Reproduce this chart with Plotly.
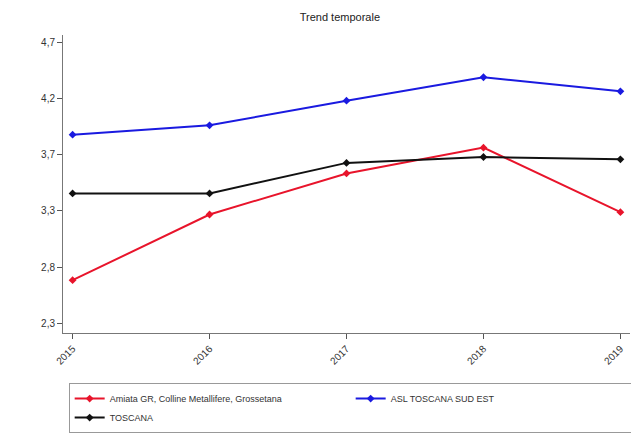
import plotly.graph_objects as go

anni = [2015, 2016, 2017, 2018, 2019]
amiata = [2.67, 3.23, 3.58, 3.80, 3.25]
asl_sud_est = [3.91, 3.99, 4.20, 4.40, 4.28]
toscana = [3.41, 3.41, 3.67, 3.72, 3.70]

y_ticks = [2.3, 2.78, 3.26, 3.74, 4.22, 4.7]
y_labels = ["2,3", "2,8", "3,3", "3,7", "4,2", "4,7"]

serie = [
    ("Amiata GR, Colline Metallifere, Grossetana", amiata, "#e8142b"),
    ("ASL TOSCANA SUD EST", asl_sud_est, "#1a1ae0"),
    ("TOSCANA", toscana, "#111111"),
]

fig = go.Figure()
for nome, valori, colore in serie:
    fig.add_trace(go.Scatter(
        x=anni, y=valori, name=nome, mode="lines+markers",
        line=dict(color=colore, width=2),
        marker=dict(symbol="diamond", size=6, color=colore),
    ))

# la pagina ha 8px di margine nel body: figura un po' più piccola
fig.update_layout(
    width=631, height=432,
    margin=dict(l=55, r=9, t=27, b=107, autoexpand=False),
    paper_bgcolor="white", plot_bgcolor="white",
    font=dict(family="Liberation Sans, Arial", size=9, color="#333"),
    title=dict(text="Trend temporale", x=0.526, xanchor="center",
               y=0.978, yanchor="middle",
               font=dict(size=11, color="#222")),
    xaxis=dict(
        range=[2014.93, 2019.07], tickvals=anni, ticktext=[str(a) for a in anni],
        tickangle=-45, ticks="outside", ticklen=5, tickcolor="#555",
        tickfont=dict(size=10),
        showline=True, linecolor="#777", linewidth=1, showgrid=False, zeroline=False,
    ),
    yaxis=dict(
        range=[2.22, 4.76], tickvals=y_ticks, ticktext=y_labels,
        ticks="outside", ticklen=5, tickcolor="#555",
        tickfont=dict(size=10),
        showline=True, linecolor="#777", linewidth=1, showgrid=False, zeroline=False,
    ),
    legend=dict(
        orientation="h", x=0.01, y=-0.168, xanchor="left", yanchor="top",
        bordercolor="#999", borderwidth=1, entrywidth=236,
        font=dict(size=9), tracegroupgap=0,
    ),
)

fig.write_html("out.html")
